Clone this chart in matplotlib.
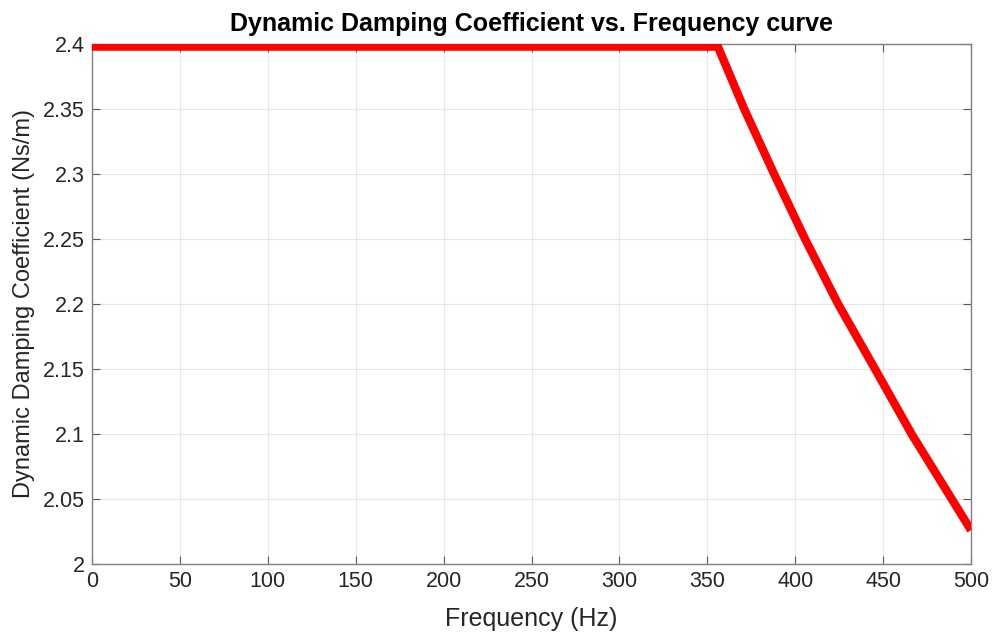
import matplotlib
matplotlib.use("Agg")
import matplotlib.pyplot as plt

freq = [0, 356, 371, 388, 405.6, 424.4, 445.4, 466.2, 500]
damping = [2.398, 2.398, 2.35, 2.30, 2.25, 2.20, 2.15, 2.10, 2.026]
xticks = [0, 50, 100, 150, 200, 250, 300, 350, 400, 450, 500]
yticks = [2, 2.05, 2.1, 2.15, 2.2, 2.25, 2.3, 2.35, 2.4]

plt.rcParams['font.family'] = ['Liberation Sans', 'DejaVu Sans']
fig = plt.figure(figsize=(9.97, 6.35), dpi=100)
ax = fig.add_axes([92/997, 71/635, 879/997, 520/635])
ax.plot(freq, damping, color=(1, 0, 0), lw=6.0, solid_joinstyle='round', solid_capstyle='butt', zorder=3)
ax.set_xlim(0, 500)
ax.set_ylim(2, 2.4)
ax.set_xticks(xticks)
ax.set_yticks(yticks)
ax.set_xticklabels([f"{t:g}" for t in xticks])
ax.set_yticklabels([f"{t:g}" for t in yticks])
ax.grid(True, color=(0.9, 0.9, 0.9), lw=0.8)
ax.set_axisbelow(True)
for s in ax.spines.values():
    s.set_color((0.5, 0.5, 0.5))
    s.set_linewidth(1.0)
ax.tick_params(direction='in', top=True, right=True, length=6, width=0.8,
               color=(0.35, 0.35, 0.35), labelsize=15.5, labelcolor=(0.15, 0.15, 0.15), pad=5)
ax.set_xlabel("Frequency (Hz)", fontsize=18, color=(0.15, 0.15, 0.15), labelpad=11)
ax.set_ylabel("Dynamic Damping Coefficient (Ns/m)", fontsize=17, color=(0.15, 0.15, 0.15), labelpad=6)
ax.set_title("Dynamic Damping Coefficient vs. Frequency curve", fontsize=18, fontweight='bold', pad=9)
fig.savefig("out.png", dpi=100)
